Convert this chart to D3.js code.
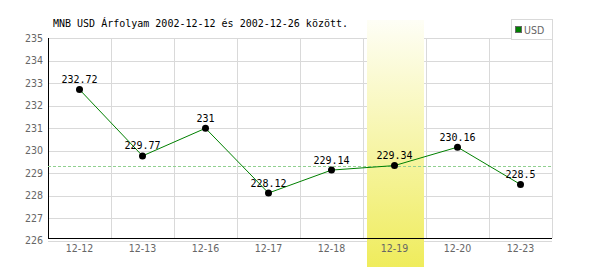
<!DOCTYPE html>
<html>
<head>
<meta charset="utf-8">
<script src="https://cdn.jsdelivr.net/npm/d3@7"></script>
<style>
  body { margin: 0; background: #fff; }
  svg { display: block; }
</style>
</head>
<body>
<svg id="chart" width="600" height="270"></svg>
<script>
  var days = ['12-12', '12-13', '12-16', '12-17', '12-18', '12-19', '12-20', '12-23']
  var rates = [232.72, 229.77, 231, 228.12, 229.14, 229.34, 230.16, 228.5]
  var yTicks = [226, 227, 228, 229, 230, 231, 232, 233, 234, 235]
  var highlightDay = '12-19'
  var title = 'MNB USD Árfolyam 2002-12-12 és 2002-12-26 között.'
  var seriesName = 'USD'

  var colorLine = '#008000'
  var colorGrid = '#d9d9d9'
  var colorTick = '#666'

  var svg = d3.select('#chart')

  var x = d3.scaleBand().domain(days).range([48, 552])
  var y = d3.scaleLinear().domain([226, 235]).range([240.7, 38.3])

  // gradient for the highlighted day
  var grad = svg.append('defs').append('linearGradient')
    .attr('id', 'hl').attr('x1', 0).attr('y1', 0).attr('x2', 0).attr('y2', 1)
  grad.append('stop').attr('offset', '0%').attr('stop-color', '#fefef6')
  grad.append('stop').attr('offset', '100%').attr('stop-color', '#efec5c')

  // grid
  svg.append('g').selectAll('line').data(yTicks).join('line')
    .attr('x1', 48).attr('x2', 552)
    .attr('y1', function (d) { return Math.round(y(d)) + 0.5 })
    .attr('y2', function (d) { return Math.round(y(d)) + 0.5 })
    .attr('stroke', colorGrid)

  svg.append('g').selectAll('line').data(days).join('line')
    .attr('x1', function (d) { return x(d) + x.bandwidth() + 0.5 })
    .attr('x2', function (d) { return x(d) + x.bandwidth() + 0.5 })
    .attr('y1', 38).attr('y2', 238)
    .attr('stroke', colorGrid)

  // highlight band
  svg.append('rect')
    .attr('x', x(highlightDay) + 4)
    .attr('width', x.bandwidth() - 6)
    .attr('y', 20).attr('height', 247)
    .attr('fill', 'url(#hl)')

  // axes lines
  svg.append('line').attr('x1', 48.5).attr('x2', 48.5).attr('y1', 38).attr('y2', 238.5)
    .attr('stroke', '#000')
  svg.append('line').attr('x1', 48).attr('x2', 552).attr('y1', 238.5).attr('y2', 238.5)
    .attr('stroke', '#000')

  // tick labels
  svg.append('g').selectAll('text').data(yTicks).join('text')
    .attr('x', 43)
    .attr('y', function (d) { return y(d) + 3.5 })
    .attr('text-anchor', 'end')
    .attr('font-family', 'DejaVu Sans Condensed, DejaVu Sans')
    .attr('font-size', 10.5)
    .attr('fill', colorTick)
    .text(function (d) { return d })

  svg.append('g').selectAll('text').data(days).join('text')
    .attr('x', function (d) { return x(d) + x.bandwidth() / 2 })
    .attr('y', 252)
    .attr('text-anchor', 'middle')
    .attr('font-family', 'DejaVu Sans Condensed, DejaVu Sans')
    .attr('font-size', 10.5)
    .attr('fill', colorTick)
    .text(function (d) { return d })

  // reference line at highlighted value
  var hlVal = rates[days.indexOf(highlightDay)]
  svg.append('line')
    .attr('x1', 48).attr('x2', 552)
    .attr('y1', Math.round(y(hlVal)) + 0.5).attr('y2', Math.round(y(hlVal)) + 0.5)
    .attr('stroke', '#90d090').attr('stroke-dasharray', '3,2')

  // series
  var pts = days.map(function (d, i) { return [x(d) + x.bandwidth() / 2, y(rates[i])] })
  svg.append('path')
    .attr('d', d3.line()(pts))
    .attr('fill', 'none')
    .attr('stroke', colorLine)
    .attr('stroke-width', 1)

  svg.append('g').selectAll('circle').data(pts).join('circle')
    .attr('cx', function (d) { return d[0] })
    .attr('cy', function (d) { return d[1] })
    .attr('r', 3.5)
    .attr('fill', '#000')

  svg.append('g').selectAll('text').data(rates).join('text')
    .attr('x', function (d, i) { return pts[i][0] })
    .attr('y', function (d, i) { return pts[i][1] - 6.5 })
    .attr('text-anchor', 'middle')
    .attr('font-family', 'DejaVu Sans Mono')
    .attr('font-size', 10)
    .attr('fill', '#000')
    .text(function (d) { return d })

  // title
  svg.append('text')
    .attr('x', 53).attr('y', 27)
    .attr('font-family', 'DejaVu Sans Mono')
    .attr('font-size', 10)
    .attr('fill', '#000')
    .text(title)

  // legend
  var lg = svg.append('g')
  lg.append('rect').attr('x', 511.5).attr('y', 19.5).attr('width', 41).attr('height', 20)
    .attr('fill', '#fff').attr('stroke', colorGrid)
  lg.append('rect').attr('x', 515.5).attr('y', 26.5).attr('width', 6).attr('height', 6)
    .attr('fill', colorLine).attr('stroke', '#666')
  lg.append('text').attr('x', 524).attr('y', 33.5)
    .attr('font-family', 'DejaVu Sans Condensed, DejaVu Sans')
    .attr('font-size', 10.5)
    .attr('fill', colorTick)
    .text(seriesName)
</script>
</body>
</html>
